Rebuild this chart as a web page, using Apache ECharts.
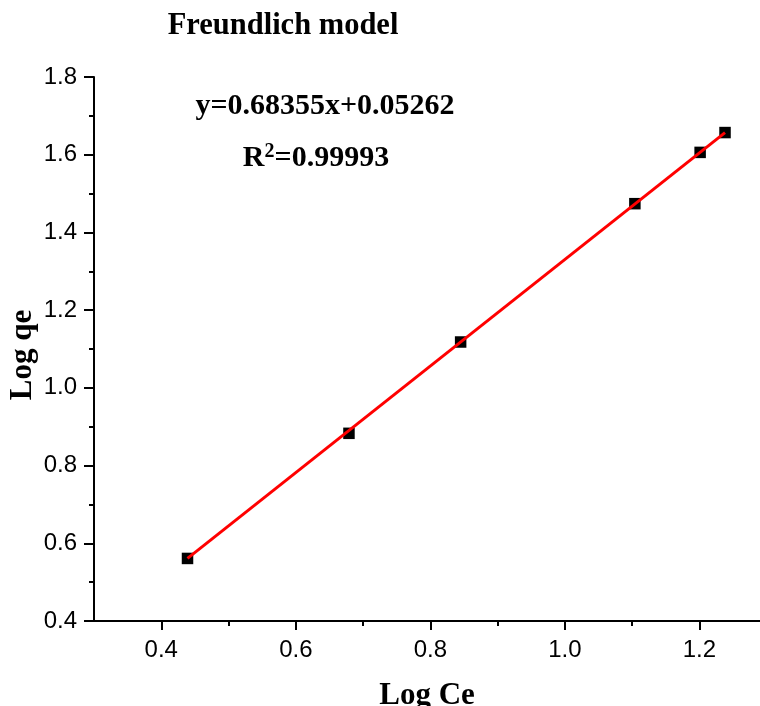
<!DOCTYPE html>
<html>
<head>
<meta charset="utf-8">
<script src="https://cdn.jsdelivr.net/npm/echarts@6/dist/echarts.min.js"></script>
<style>html,body{margin:0;padding:0;background:#fff}#c{width:760px;height:706px}</style>
</head>
<body>
<div id="c"></div>
<script>
// Data
var logCe = [0.439, 0.679, 0.845, 1.104, 1.201, 1.238];
var logQe = [0.561, 0.883, 1.118, 1.474, 1.606, 1.657];
// fitted line endpoints (as drawn in the picture)
var fitX = [0.439, 1.238];
var fitY = [0.561, 1.657];
var xMajorTicks = [0.4, 0.6, 0.8, 1.0, 1.2];
var xMinorTicks = [0.5, 0.7, 0.9, 1.1];
var titleText = 'Freundlich model';
var equationText = 'y=0.68355x+0.05262';
var r2Value = '0.99993';

var chart = echarts.init(document.getElementById('c'), null, {renderer: 'canvas'});
var serif = '"Liberation Serif", "Times New Roman", serif';
var sans = '"Liberation Sans", Arial, sans-serif';
var pts = logCe.map(function (x, i) { return [x, logQe[i]]; });
var fit = fitX.map(function (x, i) { return [x, fitY[i]]; });

var axisCommon = {
  type: 'value', min: 0.3, max: 1.29, interval: 0.1,
  splitLine: {show: false}
};
chart.setOption({
  animation: false,
  backgroundColor: '#fff',
  title: {
    text: titleText, left: 278, top: 6, textAlign: 'center',
    textStyle: {fontFamily: serif, fontWeight: 'bold', fontSize: 30.5, color: '#000'}
  },
  grid: {left: 94, right: 0, top: 77, bottom: 85, containLabel: false, outerBoundsMode: 'none'},
  xAxis: [
    Object.assign({}, axisCommon, {
      name: 'Log Ce', nameLocation: 'middle', nameGap: 59, nameMoveOverlap: false,
      nameTextStyle: {fontFamily: serif, fontWeight: 'bold', fontSize: 31, color: '#000'},
      axisLine: {show: true, onZero: false, lineStyle: {color: '#000', width: 2}},
      axisTick: {show: true, inside: false, length: 9, lineStyle: {color: '#000', width: 2}, customValues: xMajorTicks},
      axisLabel: {show: true, margin: 17, fontFamily: sans, fontSize: 24, color: '#000',
        customValues: xMajorTicks, formatter: function (v) { return v.toFixed(1); }}
    }),
    Object.assign({}, axisCommon, {
      position: 'bottom',
      axisLine: {show: false},
      axisTick: {show: true, inside: false, length: 5, lineStyle: {color: '#000', width: 2}, customValues: xMinorTicks},
      axisLabel: {show: false}
    })
  ],
  yAxis: {
    type: 'value', min: 0.4, max: 1.8, interval: 0.2,
    name: 'Log qe', nameLocation: 'middle', nameGap: 56, nameRotate: 90, nameMoveOverlap: false,
    nameTextStyle: {fontFamily: serif, fontWeight: 'bold', fontSize: 31, color: '#000', padding: [0, 0, 0, -12]},
    splitLine: {show: false},
    axisLine: {show: true, onZero: false, lineStyle: {color: '#000', width: 2}},
    axisTick: {show: true, inside: false, length: 10, lineStyle: {color: '#000', width: 2}},
    minorTick: {show: true, splitNumber: 2, length: 5, lineStyle: {color: '#000', width: 2}},
    axisLabel: {margin: 17, fontFamily: sans, fontSize: 24, color: '#000',
      formatter: function (v) { return v.toFixed(1); }}
  },
  graphic: [
    {type: 'text', x: 325, y: 106,
      style: {text: equationText, fill: '#000', font: 'bold 30px ' + serif, textAlign: 'center', textVerticalAlign: 'middle'}},
    {type: 'text', x: 316, y: 158,
      style: {text: 'R{sup|2}=' + r2Value, fill: '#000', font: 'bold 30px ' + serif, textAlign: 'center', textVerticalAlign: 'middle',
        rich: {sup: {font: 'bold 20px ' + serif, fill: '#000', padding: [0, 0, 12, 0]}}}}
  ],
  series: [
    {type: 'scatter', data: pts, symbol: 'rect', symbolSize: 11.5,
      itemStyle: {color: '#000', borderWidth: 0, opacity: 1}, z: 2},
    {type: 'line', data: fit, showSymbol: false, symbol: 'none',
      lineStyle: {color: '#ff0000', width: 3}, z: 3}
  ]
});
</script>
</body>
</html>
